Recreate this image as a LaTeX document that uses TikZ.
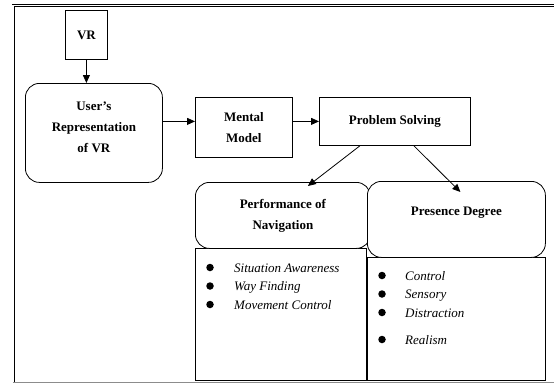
\documentclass[tikz,border=0pt]{standalone}
\usepackage{fontspec}
\setmainfont{Liberation Serif}
\usetikzlibrary{arrows.meta,calc,positioning}
\tikzset{
  flowbox/.style={draw=black,line width=0.8pt,fill=white,align=center,inner sep=0pt,anchor=north west,font=\bfseries\fontsize{13}{21}\selectfont},
  roundbox/.style={flowbox,rounded corners=14pt},
  itemtext/.style={anchor=base west,inner sep=0pt,font=\itshape\fontsize{13}{15}\selectfont},
  itemdot/.style={circle,fill=black,inner sep=0pt,minimum width=6.5pt,minimum height=7.5pt},
  flowarrow/.style={-{Triangle[length=8pt,width=7pt]},line width=0.8pt}
}

\begin{document}
\begin{tikzpicture}[x=1pt,y=-1pt]
  \useasboundingbox (0,0) rectangle (554,383);

  % --- outer frame ---
  \draw[line width=0.7pt,double,double distance=1.6pt] (554,5.5) -- (13,5.5) -- (13,383);
  \draw[black!45,line width=1pt] (13,382) -- (554,382);

  % --- top row ---
  \node[flowbox,minimum width=42pt,minimum height=49pt] (VR) at (65,10) {VR};

  \node[roundbox,minimum width=137pt,minimum height=99pt] (User) at (25,83)
    {User's\\Representation\\of VR\\[-10pt]\mbox{}};

  \node[flowbox,minimum width=97pt,minimum height=60pt] (Mental) at (195,97)
    {Mental\\Model};

  \node[flowbox,minimum width=151pt,minimum height=48pt] (PS) at (319,97)
    {Problem Solving};

  % --- outcome boxes ---
  \node[flowbox,minimum width=171pt,minimum height=132pt] (PerfBody) at (195,248) {};
  \node[roundbox,minimum width=175pt,minimum height=66pt] (PerfHead) at (195,182)
    {Performance of\\Navigation};

  \node[flowbox,minimum width=178pt,minimum height=123pt] (PresBody) at (367,257) {};
  \node[roundbox,minimum width=178pt,minimum height=76pt] (PresHead) at (367,181)
    {Presence Degree\\[-4pt]\mbox{}};

  % --- item lists ---
  \foreach \yy/\txt [count=\i] in {272/Situation Awareness,290.5/Way Finding,309/Movement Control} {
    \node[itemdot] (perfdot\i) at (210,\yy-4.5) {};
    \node[itemtext] (perfitem\i) at (234,\yy) {\txt};
  }

  \foreach \yy/\txt [count=\i] in {280/Control,298.5/Sensory,317/Distraction,344/Realism} {
    \node[itemdot] (presdot\i) at (382,\yy-4.5) {};
    \node[itemtext] (presitem\i) at (405,\yy) {\txt};
  }

  % --- arrows ---
  \coordinate (perfin) at ($(PerfHead.north)+(25,4)$);
  \coordinate (presin) at ($(PresHead.north)+(4,11)$);

  \draw[flowarrow] (VR.south) -- (VR.south |- User.north);
  \draw[flowarrow] (User.east |- PS.west) -- (Mental.west |- PS.west);
  \draw[flowarrow] (Mental.east |- PS.west) -- (PS.west);
  \draw[flowarrow] ($(PS.south)+(-35,0)$) -- (perfin);
  \draw[flowarrow] ($(PS.south)+(19,0)$) -- (presin);

\end{tikzpicture}
\end{document}
